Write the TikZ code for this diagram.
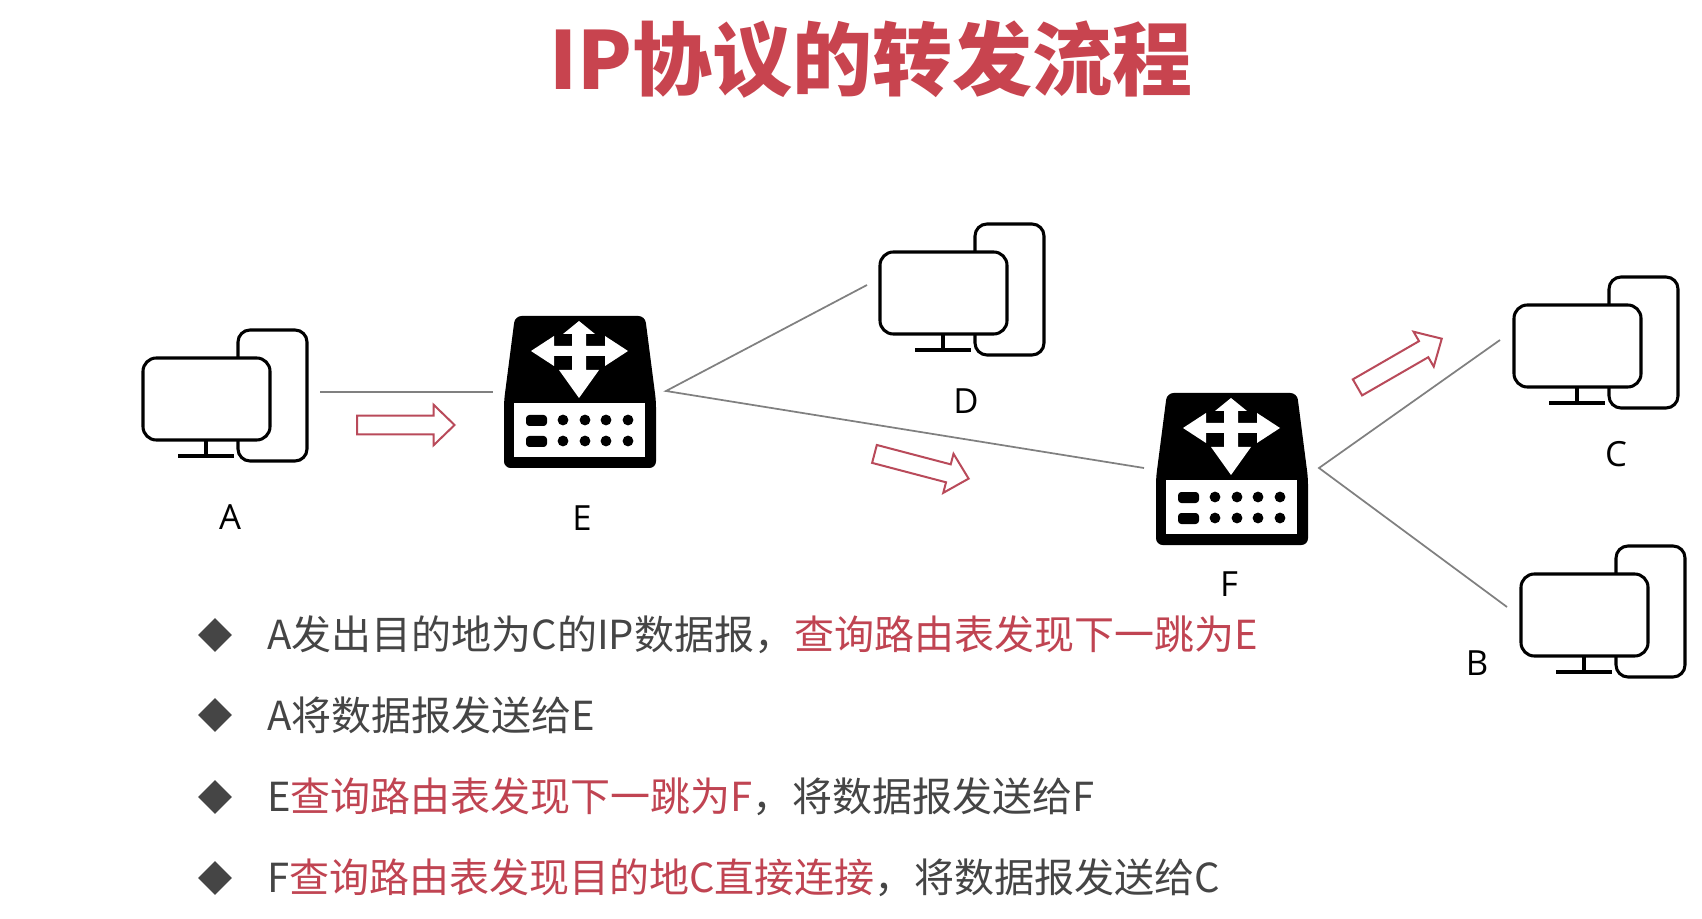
\documentclass[tikz,border=0pt]{standalone}
\usepackage{fontspec}
\usetikzlibrary{shapes.arrows,shapes.geometric}
\setmainfont{Noto Sans CJK SC}
\newfontfamily\latinlabel{Open Sans}
\definecolor{titlered}{HTML}{C8444F}
\definecolor{bodyred}{HTML}{C04452}
\definecolor{bodydark}{HTML}{454545}
\definecolor{linkgray}{HTML}{808080}
\definecolor{arrowred}{HTML}{B94A5A}
\tikzset{
  x=0.75pt,y=-0.75pt,
  link/.style={draw=linkgray,line width=1.3pt},
  iconline/.style={draw=black,line width=2.3pt},
  hollow/.style={single arrow,draw=arrowred,line width=1.5pt,fill=white,inner sep=6.2pt,
    single arrow tip angle=88,single arrow head extend=8.2pt,anchor=tip},
  lab/.style={font=\latinlabel\fontsize{26}{30}\selectfont,text=black,inner sep=0pt},
  item/.style={anchor=west,inner sep=0pt,font=\fontsize{30}{34}\selectfont,text=bodydark},
  bullet/.style={diamond,fill=bodydark,minimum width=25.5pt,minimum height=25.5pt,inner sep=0pt},
  pc/.pic={
    \draw[iconline,fill=white,rounded corners=9] (95,-28) rectangle (164,103);
    \draw[iconline,fill=white,rounded corners=10] (0,0) rectangle (127,82);
    \draw[iconline] (63,82) -- (63,98);
    \draw[iconline] (35,98) -- (91,98);
  },
  router/.pic={
    \fill[black,rounded corners=5] (11,0) -- (141,0) -- (152,85) -- (152,152) -- (0,152) -- (0,85) -- cycle;
    \fill[white] (10,87) rectangle (141,141);
    \fill[white] (75,5) -- (91,18) -- (82,18) -- (82,30) -- (101,30) -- (101,20) -- (124,35) -- (101,50)
      -- (101,40) -- (82,40) -- (82,54) -- (95,54) -- (75,82) -- (55,54) -- (68,54) -- (68,40) -- (50,40)
      -- (50,50) -- (27,35) -- (50,20) -- (50,30) -- (68,30) -- (68,18) -- (59,18) -- cycle;
    \fill[black,rounded corners=2.5] (22,99) rectangle (43,110);
    \fill[black,rounded corners=2.5] (22,120) rectangle (43,131);
    \foreach \dx in {59,81,102,124} {
      \fill[black] (\dx,104) circle[radius=5.4];
      \fill[black] (\dx,125) circle[radius=5.4];
    }
  }
}
\begin{document}
\begin{tikzpicture}
\useasboundingbox (0,0) rectangle (1702,919);
\fill[white] (0,0) rectangle (1702,919);

\node[font=\fontsize{60}{64}\bfseries\selectfont,text=titlered,inner sep=0pt] (title) at (871,59) {IP协议的转发流程};

% hosts
\pic at (143,358) {pc};
\pic at (880,252) {pc};
\pic at (1514,305) {pc};
\pic at (1521,574) {pc};
% routers
\pic at (504,316) {router};
\pic at (1156,393) {router};

\node[lab] (labA) at (230,517) {A};
\node[lab] (labE) at (582,518) {E};
\node[lab] (labD) at (966,401) {D};
\node[lab] (labF) at (1229,584) {F};
\node[lab] (labC) at (1616,454) {C};
\node[lab] (labB) at (1477,663) {B};

% link end points
\coordinate (aOut) at (320,392);
\coordinate (eIn) at (493,392);
\coordinate (eOut) at (666,391);
\coordinate (dIn) at (867,285);
\coordinate (fIn) at (1144,468);
\coordinate (fOut) at (1319,468);
\coordinate (cIn) at (1500,340);
\coordinate (bIn) at (1507,607);
\draw[link] (aOut) -- (eIn);
\draw[link] (dIn) -- (eOut) -- (fIn);
\draw[link] (cIn) -- (fOut) -- (bIn);

% flow arrows
\node[hollow,minimum height=73pt,rotate=0] (flowA) at (456,425) {};
\node[hollow,minimum height=73pt,rotate=-14.7] (flowE) at (970,479) {};
\node[hollow,minimum height=73pt,rotate=30] (flowF) at (1443,338) {};

% list
\node[bullet] (b1) at (215,635) {};
\node[bullet] (b2) at (215,715) {};
\node[bullet] (b3) at (215,797) {};
\node[bullet] (b4) at (215,878) {};
\node[item] (t1) at (267,635) {A发出目的地为C的IP数据报，\textcolor{bodyred}{查询路由表发现下一跳为E}};
\node[item] (t2) at (267,715) {A将数据报发送给E};
\node[item] (t3) at (267,797) {E\textcolor{bodyred}{查询路由表发现下一跳为F}，将数据报发送给F};
\node[item] (t4) at (267,878) {F\textcolor{bodyred}{查询路由表发现目的地C直接连接}，将数据报发送给C};
\end{tikzpicture}
\end{document}
